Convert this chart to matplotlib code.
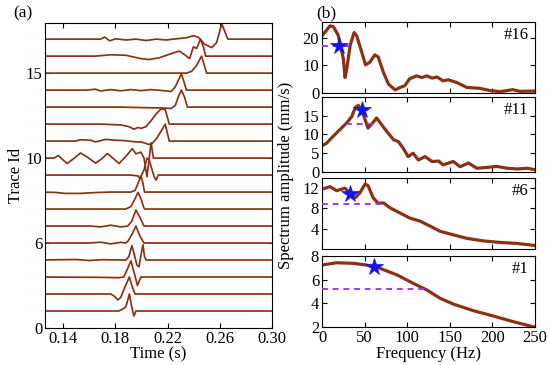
import numpy as np
import matplotlib
matplotlib.use('Agg')
import matplotlib.pyplot as plt

plt.rcParams['font.family'] = ['Liberation Serif', 'DejaVu Serif']
plt.rcParams['font.size'] = 12
plt.rcParams['xtick.direction'] = 'in'
plt.rcParams['ytick.direction'] = 'in'
plt.rcParams['xtick.top'] = True
plt.rcParams['ytick.right'] = True

# ---- (a) traces: (time s, amplitude in trace units), trace 1 at bottom ----
traces = {
    1: ([0.120, 0.1826, 0.1857, 0.1880, 0.1907, 0.1926, 0.1942, 0.1957, 0.300],
        [0, 0, 0.12, 0.25, 1.0, 0.2, -0.3, 0, 0]),
    2: ([0.120, 0.1764, 0.1795, 0.1818, 0.1841, 0.1872, 0.1907, 0.1926, 0.1950, 0.300],
        [0, 0, -0.15, -0.35, -0.2, 0.4, 1.0, 0.5, 0, 0]),
    3: ([0.120, 0.1686, 0.1826, 0.1864, 0.1888, 0.1919, 0.1942, 0.1969, 0.1984, 0.1996, 0.300],
        [0, -0.02, -0.04, 0, 0.4, 0.95, 0.3, -0.5, -0.2, 0, 0]),
    4: ([0.120, 0.1500, 0.1600, 0.1700, 0.1880, 0.1903, 0.1926, 0.1942, 0.1965, 0.1981, 0.1996,
         0.2011, 0.2023, 0.2035, 0.300],
        [0, 0.03, -0.03, 0.02, 0, 0.2, 0.85, 0.4, -0.3, -0.4, 0.3, 0.9, 0.2, 0, 0]),
    5: ([0.120, 0.1600, 0.1686, 0.1764, 0.1841, 0.1880, 0.1895, 0.1926, 0.1957, 0.1988, 0.2019, 0.300],
        [0, 0, 0.05, -0.05, 0.04, 0, 0.1, 0.5, 1.0, 0.4, 0, 0]),
    6: ([0.120, 0.1609, 0.1686, 0.1764, 0.1841, 0.1895, 0.1926, 0.1957, 0.1988, 0.2019, 0.300],
        [0, 0, -0.05, 0.05, -0.05, 0, 0.3, 0.95, 0.5, 0, 0]),
    7: ([0.120, 0.1880, 0.1919, 0.1950, 0.1973, 0.1996, 0.2019, 0.2027, 0.300],
        [0, 0, 0.15, 0.6, 0.98, 0.6, 0.05, 0, 0]),
    8: ([0.120, 0.1338, 0.1415, 0.1532, 0.1648, 0.1764, 0.1919, 0.1950, 0.1973, 0.1996, 0.2011, 0.2023, 0.300],
        [0, -0.02, -0.08, -0.08, -0.03, 0, 0, 0.1, 0.5, 0.95, 0.5, 0, 0]),
    9: ([0.120, 0.1919, 0.1973, 0.1988, 0.2019, 0.2042, 0.2058, 0.2081, 0.2097, 0.2112, 0.2128, 0.300],
        [0, 0, -0.05, -0.2, 0.3, 1.0, 0.9, 0.3, -0.1, -0.3, 0, 0]),
    10: ([0.120, 0.1330, 0.1361, 0.1429, 0.1477, 0.1532, 0.1586, 0.1648, 0.1694, 0.1738,
          0.1779, 0.1828, 0.1880, 0.1929, 0.1957, 0.1996, 0.2019, 0.2042, 0.2073, 0.2091, 0.300],
         [0, 0, 0.15, -0.32, -0.05, 0.3, 0.05, -0.3, -0.05, 0.27,
          0, -0.32, 0.1, 0.55, 0.25, 0.35, 0, -1.1, 0.9, 0, 0]),
    11: ([0.120, 0.1493, 0.1532, 0.1609, 0.1648, 0.1725, 0.1802, 0.1880, 0.1957, 0.1996, 0.2058,
          0.2081, 0.2120, 0.2151, 0.2182, 0.2197, 0.2213, 0.300],
         [0, 0, 0.08, 0.05, -0.05, 0.1, 0.05, 0.02, -0.05, -0.05, -0.2,
          -0.15, 0.2, 0.6, 1.0, 0.5, 0, 0]),
    12: ([0.120, 0.1686, 0.1841, 0.1903, 0.1942, 0.1973, 0.1996, 0.2035, 0.2073, 0.2112, 0.2151,
          0.2182, 0.2213, 0.300],
         [0, 0, -0.05, -0.15, -0.3, -0.2, -0.25, -0.15, 0.2, 0.6, 0.9, 0.85, 0, 0]),
    13: ([0.120, 0.1841, 0.1996, 0.2151, 0.2228, 0.2259, 0.2282, 0.2306, 0.2329, 0.2352, 0.300],
         [0, 0, -0.03, -0.05, -0.08, 0.1, 0.6, 1.0, 0.6, 0, 0]),
    14: ([0.120, 0.1570, 0.1648, 0.1686, 0.1764, 0.1841, 0.1919, 0.1996, 0.2073, 0.2151,
          0.2228, 0.2259, 0.2306, 0.2329, 0.2344, 0.300],
         [0, 0, 0.05, -0.05, 0.03, -0.04, 0.03, -0.03, 0.03, -0.02,
          -0.08, 0.2, 0.95, 0.4, 0, 0]),
    15: ([0.120, 0.2344, 0.2383, 0.2422, 0.2460, 0.2484, 0.2499, 0.300],
         [0, 0, 0.1, 0.45, 1.0, 0.4, 0, 0]),
    16: ([0.120, 0.1648, 0.1764, 0.1880, 0.1996, 0.2058, 0.2135, 0.2228, 0.2290, 0.2337, 0.2368,
          0.2398, 0.2422, 0.2453, 0.2476, 0.2491, 0.300],
         [0, 0, 0.08, 0.05, -0.15, -0.2, -0.1, 0.15, 0.3, 0.05, -0.15,
          0.55, 0.45, 1.0, 0.5, 0, 0]),
    17: ([0.120, 0.1686, 0.1717, 0.1756, 0.1802, 0.1880, 0.1957, 0.2035, 0.2112, 0.2189, 0.2267,
          0.2344, 0.2398, 0.2437, 0.2484, 0.2538, 0.2576, 0.2615, 0.2646, 0.2662, 0.300],
         [0, 0, 0.12, -0.1, 0.02, -0.05, 0, -0.08, 0, -0.05, 0.02,
          0.08, 0.2, 0.1, -0.3, -0.5, -0.2, 0.9, 0.3, 0, 0]),
}
trace_ticks = [0, 5, 10, 15]
trace_ticklabels = ['0', '6', '10', '15']

# ---- (b) spectra: frequency (Hz), amplitude (mm/s) ----
f16 = [0, 9.4, 13.3, 19, 25, 27, 29, 33, 37.6, 40.7, 46.6, 51, 56, 62, 66, 72, 78, 86, 91.5,
       97, 103, 111, 117, 123, 129, 135, 142, 148, 158, 170, 185, 197, 209, 224, 232, 250]
a16 = [20.7, 24.3, 24.0, 20.9, 12.4, 5.6, 8.7, 17.2, 21.9, 20.7, 14.8, 10.2, 11.1, 13.8, 13.0,
       7.5, 3.2, 1.1, 2.0, 2.6, 5.2, 6.2, 5.6, 6.2, 5.4, 5.8, 4.4, 4.8, 3.8, 2.0, 1.7, 0.9, 0.5,
       1.2, 0.6, 0.7]
f11 = [0, 5.5, 13, 21, 29, 35, 39, 42.6, 48.5, 54, 59.5, 64, 70, 76, 84, 89.6, 95.4, 101, 107,
       113, 121, 129, 137, 142, 154, 162, 172, 181.6, 193, 205, 217, 229, 241, 250]
a11 = [7.0, 7.7, 9.5, 11.3, 13.1, 14.8, 17.2, 17.8, 15.3, 11.7, 13.1, 14.4, 12.6, 10.8, 8.6,
       8.1, 6.3, 4.1, 5.0, 3.2, 4.1, 2.8, 2.9, 1.9, 2.8, 1.4, 2.4, 1.0, 1.2, 1.5, 1.0, 0.8, 1.0, 0.6]
f6 = [0, 9.4, 17, 27, 33, 39, 44.6, 50.5, 54, 60, 66, 72, 80, 91.5, 103, 115, 127, 138.5,
      154, 170, 189, 209, 228.5, 250]
a6 = [11.8, 12.3, 11.5, 12.0, 10.9, 10.1, 11.1, 12.8, 12.5, 10.1, 9.0, 9.1, 8.1, 7.1, 6.1,
      5.5, 4.5, 3.5, 2.8, 2.1, 1.6, 1.3, 1.1, 0.7]
f1 = [0, 17, 37, 52, 68, 88, 107, 123, 138.5, 154, 177.6, 201, 224.5, 250]
a1 = [7.24, 7.43, 7.38, 7.24, 6.96, 6.4, 5.69, 5.13, 4.43, 3.94, 3.38, 2.93, 2.45, 1.98]

spec_labels = ['#16', '#11', '#6', '#1']
star_f = [20, 46.5, 33, 61]
star_a = [17.0, 16.4, 10.9, 7.1]
dash_f0 = [0, 28, 0, 0]
dash_f1 = [36, 63, 68, 121]
dash_a = [17.0, 12.8, 8.8, 5.2]
spec_ylims = [(0, 25.7), (0, 20), (0, 14), (2, 8)]
spec_yticks = [[0, 10, 20], [0, 5, 10, 15], [4, 8, 12], [2, 4, 6, 8]]

line_c = '#8b3214'
dash_c = '#9a3cf0'

fig = plt.figure(figsize=(5.5, 3.65), dpi=100)

# ---- panel (a) ----
ax = fig.add_axes([0.0818, 0.1014, 0.4127, 0.8356])
for k, (t, amp) in traces.items():
    ax.plot(t, k + np.array(amp), color=line_c, lw=1.25)
ax.set_xlim(0.126, 0.30)
ax.set_ylim(0, 17.95)
ax.set_xticks([0.14, 0.18, 0.22, 0.26, 0.30])
ax.set_xticklabels(['0.14', '0.18', '0.22', '0.26', '0.30'])
ax.set_yticks(trace_ticks)
ax.set_yticklabels(trace_ticklabels)
ax.set_xlabel('Time (s)', labelpad=0)
ax.set_ylabel('Trace Id', labelpad=1)
ax.tick_params(length=3.5, pad=2)
fig.text(0.025, 0.963, '(a)', fontsize=12.5, va='center')

# ---- panel (b) ----
positions = [[0.5855, 0.7452, 0.3873, 0.1945],
             [0.5855, 0.5288, 0.3873, 0.2055],
             [0.5855, 0.3178, 0.3873, 0.1945],
             [0.5855, 0.1041, 0.3873, 0.1945]]
spectra = [(f16, a16), (f11, a11), (f6, a6), (f1, a1)]
axes_b = []
for i, pos in enumerate(positions):
    axb = fig.add_axes(pos)
    f, a = spectra[i]
    axb.plot(f, a, color=line_c, lw=2.3, zorder=2)
    axb.plot([dash_f0[i], dash_f1[i]], [dash_a[i], dash_a[i]], color=dash_c,
             lw=1.4, ls=(0, (3, 2.5)), zorder=3)
    axb.plot(star_f[i], star_a[i], marker='*', color='#1414e6', markersize=13,
             markeredgewidth=0.5, zorder=4)
    axb.set_xlim(0, 250)
    axb.set_ylim(*spec_ylims[i])
    axb.set_yticks(spec_yticks[i])
    axb.set_xticks([0, 50, 100, 150, 200, 250])
    axb.tick_params(length=3.5, pad=2)
    if i < 3:
        axb.set_xticklabels([])
    axb.text(0.97, 0.82, spec_labels[i], transform=axb.transAxes, ha='right', va='center',
             fontsize=12)
    axes_b.append(axb)
axes_b[-1].set_xlabel('Frequency (Hz)', labelpad=0)
fig.text(0.52, 0.52, 'Spectrum amplitude (mm/s)', rotation=90, ha='center', va='center',
         fontsize=12)
fig.text(0.575, 0.963, '(b)', fontsize=12.5, va='center')

fig.savefig('out.png', dpi=100)
